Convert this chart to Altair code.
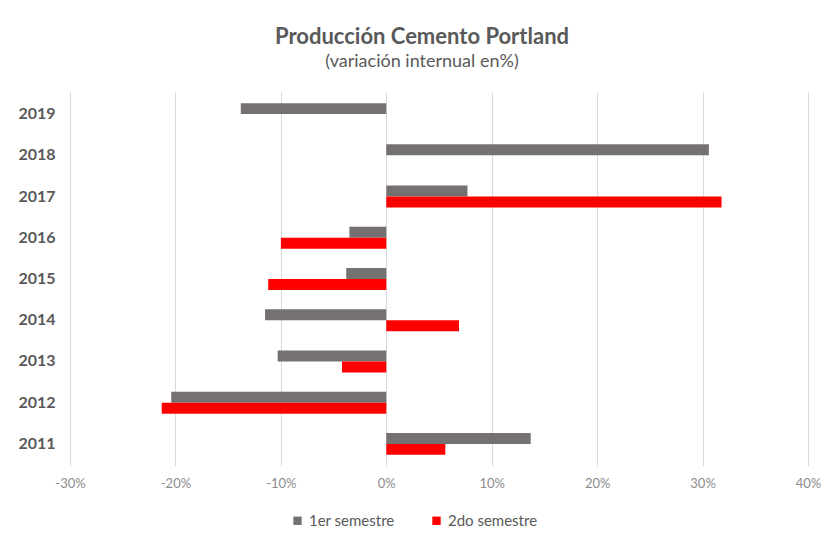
import altair as alt
import pandas as pd

years = ["2019", "2018", "2017", "2016", "2015", "2014", "2013", "2012", "2011"]
first_sem = [-0.138, 0.306, 0.077, -0.035, -0.038, -0.115, -0.103, -0.204, 0.137]
second_sem = [None, None, 0.318, -0.100, -0.112, 0.069, -0.042, -0.213, 0.056]
series = ["1er semestre", "2do semestre"]
colors = ["#767171", "#ff0000"]
x_ticks = [-0.3, -0.2, -0.1, 0.0, 0.1, 0.2, 0.3, 0.4]

rows = []
for y, a, b in zip(years, first_sem, second_sem):
    rows.append({"year": y, "serie": series[0], "value": a})
    if b is not None:
        rows.append({"year": y, "serie": series[1], "value": b})
df = pd.DataFrame(rows)

FONT = "Lato"

chart = alt.Chart(df).mark_bar().encode(
    y=alt.Y("year:N", sort=years,
            scale=alt.Scale(paddingInner=0.47, paddingOuter=0.27),
            axis=alt.Axis(title=None, domain=False, ticks=False, grid=False,
                          labelFontSize=16, labelFontWeight="bold",
                          labelColor="#595959", labelFont=FONT, labelPadding=15)),
    yOffset=alt.YOffset("serie:N", sort=series),
    x=alt.X("value:Q",
            scale=alt.Scale(domain=[-0.3, 0.4], nice=False, zero=False),
            axis=alt.Axis(title=None, values=x_ticks, domain=False,
                          labelExpr="(datum.value < -0.0001 ? '-' : '') + format(abs(datum.value), '.0%')",
                          ticks=False, grid=True, gridColor="#d9d9d9",
                          labelFlush=False,
                          labelFontSize=13, labelColor="#8c8c8c", labelFont=FONT,
                          labelPadding=11)),
    color=alt.Color("serie:N", sort=series,
                    scale=alt.Scale(domain=series, range=colors),
                    legend=alt.Legend(title=None, orient="none", direction="horizontal",
                                      legendX=220, legendY=421,
                                      symbolType="square", symbolSize=70,
                                      symbolStrokeWidth=0,
                                      labelFontSize=15, labelColor="#595959",
                                      labelFont=FONT, columnPadding=34)),
).properties(
    width=738,
    height=374,
    padding={"left": 62, "top": 84, "right": 16, "bottom": 70},
    autosize=alt.AutoSizeParams(type="none"),
    title=alt.TitleParams(
        text="Producción Cemento Portland",
        subtitle="(variación internual en%)",
        fontSize=22, fontWeight="bold", color="#595959", font=FONT,
        subtitleFontSize=18, subtitleColor="#595959", subtitleFont=FONT,
        subtitlePadding=4, anchor="middle", dx=-17, offset=20,
    ),
).configure_view(stroke=None)

chart.save("out.html", embed_options={"renderer": "svg", "actions": False})
